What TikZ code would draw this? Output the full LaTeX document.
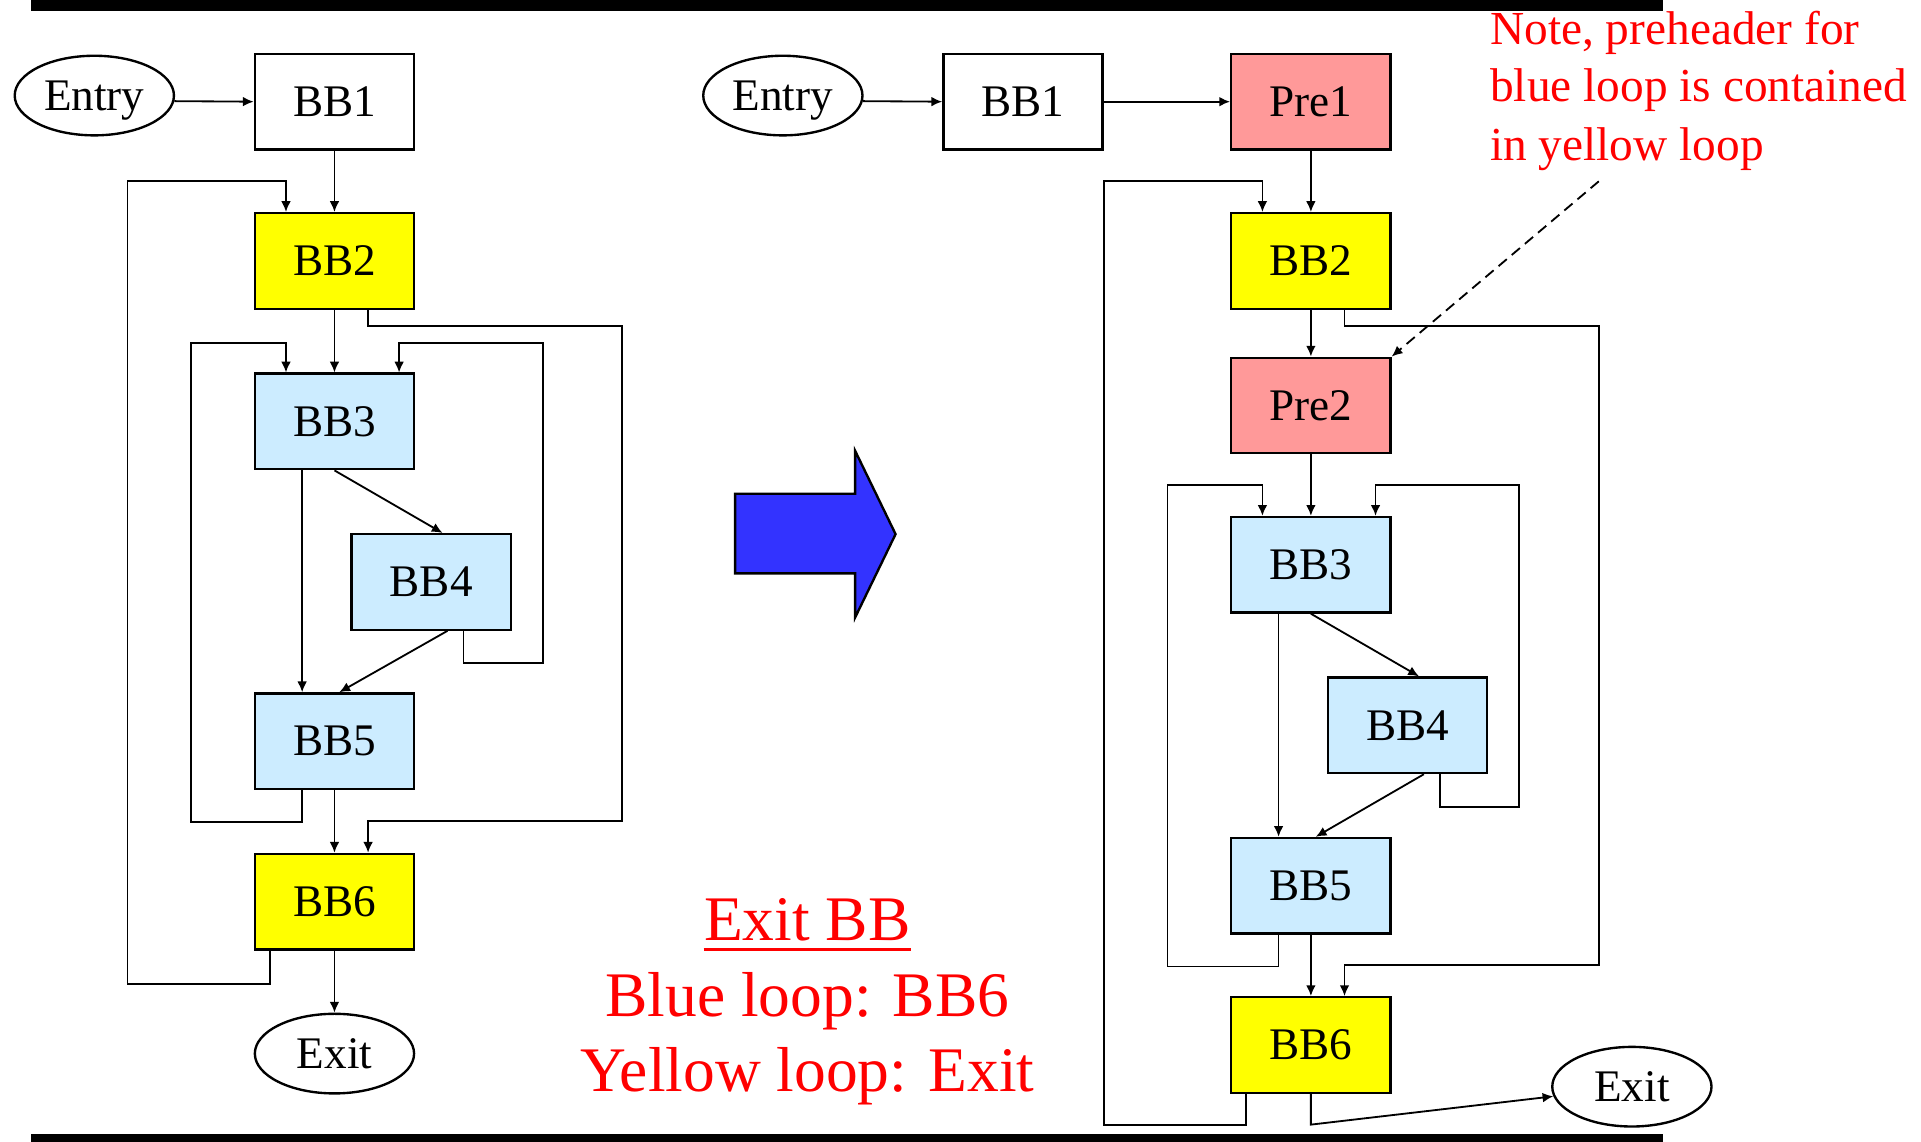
\documentclass[tikz,border=0pt]{standalone}
\usepackage{fontspec}
\setmainfont{Liberation Serif}
\usepackage{xcolor}
\usepackage{tikz}
\usetikzlibrary{shapes.geometric, arrows.meta, calc}

\definecolor{bbyellow}{HTML}{FFFF00}
\definecolor{bbblue}{HTML}{CCECFF}
\definecolor{bbpink}{HTML}{FF9999}
\definecolor{bigblue}{HTML}{3333FF}

\begin{document}
\begin{tikzpicture}[x=0.02cm, y=-0.02cm,
    bb/.style={draw, line width=1.1pt, minimum width=2.6cm, minimum height=1.56cm, inner sep=0pt, font=\fontsize{21}{25}\selectfont},
    term/.style={draw, ellipse, line width=1.1pt, minimum width=2.6cm, minimum height=1.3cm, inner sep=0pt, text depth=0pt, font=\fontsize{21}{25}\selectfont},
    edge/.style={line width=0.85pt, -{Latex[length=5pt,width=4.5pt]}},
    note/.style={text=red, anchor=base west, inner sep=0pt, font=\fontsize{22}{26}\selectfont},
    big/.style={text=red, anchor=base, inner sep=0pt, font=\fontsize{29.5}{35}\selectfont}]
            \useasboundingbox (0,0) rectangle (1568,932);
            \fill (25,0) rectangle (1357,9);
            \fill (25,926) rectangle (1357,932);

            \node[term] (entryA) at (77,78) {Entry};
            \node[bb] (b1a) at (273,83) {BB1};
            \node[bb, fill=bbyellow] (b2a) at (273,213) {BB2};
            \node[bb, fill=bbblue] (b3a) at (273,344) {BB3};
            \node[bb, fill=bbblue] (b4a) at (352,475) {BB4};
            \node[bb, fill=bbblue] (b5a) at (273,605) {BB5};
            \node[bb, fill=bbyellow] (b6a) at (273,736) {BB6};
            \node[term] (exitA) at (273,860) {Exit};

            \draw[edge] (entryA.-4) -- (b1a.west);
            \draw[edge] (b1a) -- (b2a);
            \draw[edge] (b2a) -- (b3a);
            \draw[edge] (b5a) -- (b6a);
            \draw[edge] (b6a) -- (exitA);
            \draw[edge] (b3a.south) -- ($(b4a.north west)!0.57!(b4a.north east)$);
            \draw[edge] ($(b3a.south west)!0.3!(b3a.south east)$) -- ($(b5a.north west)!0.3!(b5a.north east)$);
            \draw[edge] ($(b4a.south west)!0.6!(b4a.south east)$) -- ($(b5a.north west)!0.53!(b5a.north east)$);
            \draw[edge] ($(b6a.south west)!0.1!(b6a.south east)$) -- ++(0,27) -| (104,148) -| ($(b2a.north west)!0.2!(b2a.north east)$);
            \draw[edge] ($(b2a.south west)!0.708!(b2a.south east)$) -- ++(0,13) -| (508,670) -| ($(b6a.north west)!0.708!(b6a.north east)$);
            \draw[edge] ($(b5a.south west)!0.3!(b5a.south east)$) -- ++(0,26) -| (156,280) -| ($(b3a.north west)!0.2!(b3a.north east)$);
            \draw[edge] ($(b4a.south west)!0.7!(b4a.south east)$) -- ++(0,26) -| (443,280) -| ($(b3a.north west)!0.9!(b3a.north east)$);

            \draw[fill=bigblue, line width=1.1pt] (600,403) -- (698,403) -- (698,368) -- (731,436) -- (698,504) -- (698,468) -- (600,468) -- cycle;

            \node[big] (exitbb) at (659,768) {Exit BB};
            \draw[red, line width=1.3pt] ([yshift=-4pt]exitbb.base west) -- ([yshift=-4pt]exitbb.base east);
            \node[big] (blueexit) at (659,830) {Blue loop: BB6};
            \node[big] (yellowexit) at (659,891) {Yellow loop: Exit};

            \node[term] (entryB) at (639,78) {Entry};
            \node[bb] (b1b) at (835,83) {BB1};
            \node[bb, fill=bbpink] (p1) at (1070,83) {Pre1};
            \node[bb, fill=bbyellow] (b2b) at (1070,213) {BB2};
            \node[bb, fill=bbpink] (p2) at (1070,331) {Pre2};
            \node[bb, fill=bbblue] (b3b) at (1070,461) {BB3};
            \node[bb, fill=bbblue] (b4b) at (1149,592) {BB4};
            \node[bb, fill=bbblue] (b5b) at (1070,723) {BB5};
            \node[bb, fill=bbyellow] (b6b) at (1070,853) {BB6};
            \node[term] (exitB) at (1332,887) {Exit};

            \draw[edge] (entryB.-4) -- (b1b.west);
            \draw[edge] (b1b) -- (p1);
            \draw[edge] (p1) -- (b2b);
            \draw[edge] (b2b) -- (p2);
            \draw[edge] (p2) -- (b3b);
            \draw[edge] (b5b) -- (b6b);
            \draw[edge] (b3b.south) -- ($(b4b.north west)!0.57!(b4b.north east)$);
            \draw[edge] ($(b3b.south west)!0.3!(b3b.south east)$) -- ($(b5b.north west)!0.3!(b5b.north east)$);
            \draw[edge] ($(b4b.south west)!0.6!(b4b.south east)$) -- ($(b5b.north west)!0.53!(b5b.north east)$);
            \draw[edge] ($(b6b.south west)!0.1!(b6b.south east)$) -- ++(0,25) -| (901,148) -| ($(b2b.north west)!0.2!(b2b.north east)$);
            \draw[edge] ($(b2b.south west)!0.708!(b2b.south east)$) -- ++(0,13) -| (1305,788) -| ($(b6b.north west)!0.708!(b6b.north east)$);
            \draw[edge] ($(b5b.south west)!0.3!(b5b.south east)$) -- ++(0,26) -| (953,396) -| ($(b3b.north west)!0.2!(b3b.north east)$);
            \draw[edge] ($(b4b.south west)!0.7!(b4b.south east)$) -- ++(0,27) -| (1240,396) -| ($(b3b.north west)!0.9!(b3b.north east)$);
            \draw[edge] (b6b.south) -- ++(0,25) -- (exitB.187);

            \node[note] (note1) at (1216,36) {Note, preheader for};
            \node[note] (note2) at (1216,83) {blue loop is contained};
            \node[note] (note3) at (1216,131) {in yellow loop};
            \coordinate (noteEnd) at (1305,148);
            \draw[edge, dash pattern=on 5pt off 3pt] (noteEnd) -- (p2.north east);
        \end{tikzpicture}
\end{document}
